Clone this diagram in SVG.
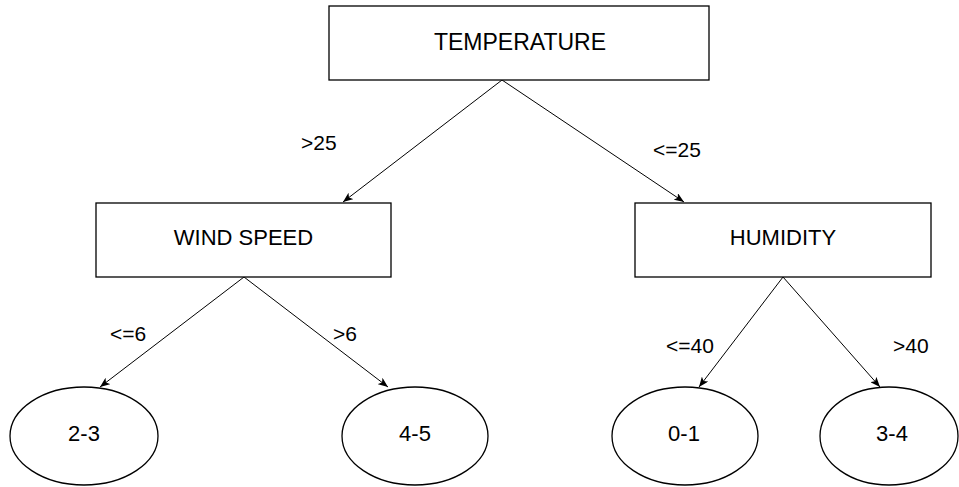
<svg xmlns="http://www.w3.org/2000/svg" width="959" height="487" viewBox="0 0 959 487">
<style>
.box{fill:#fff;stroke:#000;stroke-width:1.3}
.t{font-family:"Liberation Sans",Arial,sans-serif;font-size:22px;fill:#000;text-anchor:middle}
.lbl{font-family:"Liberation Sans",Arial,sans-serif;font-size:21px;fill:#000}
.edge{stroke:#000;stroke-width:1;fill:none;marker-end:url(#arr)}
</style>
<defs>
<marker id="arr" viewBox="0 0 10 8" refX="10" refY="4" markerWidth="10" markerHeight="8" markerUnits="userSpaceOnUse" orient="auto">
<path d="M0,0 L10,4 L0,8 L2.5,4 Z" fill="#000"/>
</marker>
</defs>
<rect width="959" height="487" fill="#fff"/>
<g id="edges">
<line class="edge" x1="502" y1="80" x2="343" y2="202"/>
<line class="edge" x1="502" y1="80" x2="684" y2="202"/>
<line class="edge" x1="244" y1="277" x2="100" y2="387"/>
<line class="edge" x1="244" y1="277" x2="388" y2="387"/>
<line class="edge" x1="783" y1="277" x2="699" y2="387"/>
<line class="edge" x1="783" y1="277" x2="880" y2="387"/>
<text class="lbl" x="301" y="150">&gt;25</text>
<text class="lbl" x="653" y="157">&lt;=25</text>
<text class="lbl" x="110" y="341">&lt;=6</text>
<text class="lbl" x="333" y="341">&gt;6</text>
<text class="lbl" x="666" y="353">&lt;=40</text>
<text class="lbl" x="893" y="353">&gt;40</text>
</g>
<g id="temperature">
<rect class="box" x="329" y="6" width="380" height="74"/>
<text class="t" x="520" y="50" style="font-size:23px">TEMPERATURE</text>
</g>
<g id="windspeed">
<rect class="box" x="96" y="203" width="295" height="74"/>
<text class="t" x="243.5" y="245">WIND SPEED</text>
</g>
<g id="humidity">
<rect class="box" x="635" y="203" width="296" height="74"/>
<text class="t" x="783" y="245">HUMIDITY</text>
</g>
<g id="leaf23">
<ellipse class="box" cx="84" cy="436" rx="74" ry="49"/>
<text class="t" x="84" y="441">2-3</text>
</g>
<g id="leaf45">
<ellipse class="box" cx="415" cy="436" rx="73" ry="49"/>
<text class="t" x="415" y="441">4-5</text>
</g>
<g id="leaf01">
<ellipse class="box" cx="685" cy="436" rx="73" ry="49"/>
<text class="t" x="684" y="441">0-1</text>
</g>
<g id="leaf34">
<ellipse class="box" cx="889" cy="436" rx="69" ry="49"/>
<text class="t" x="892" y="441">3-4</text>
</g>
</svg>
